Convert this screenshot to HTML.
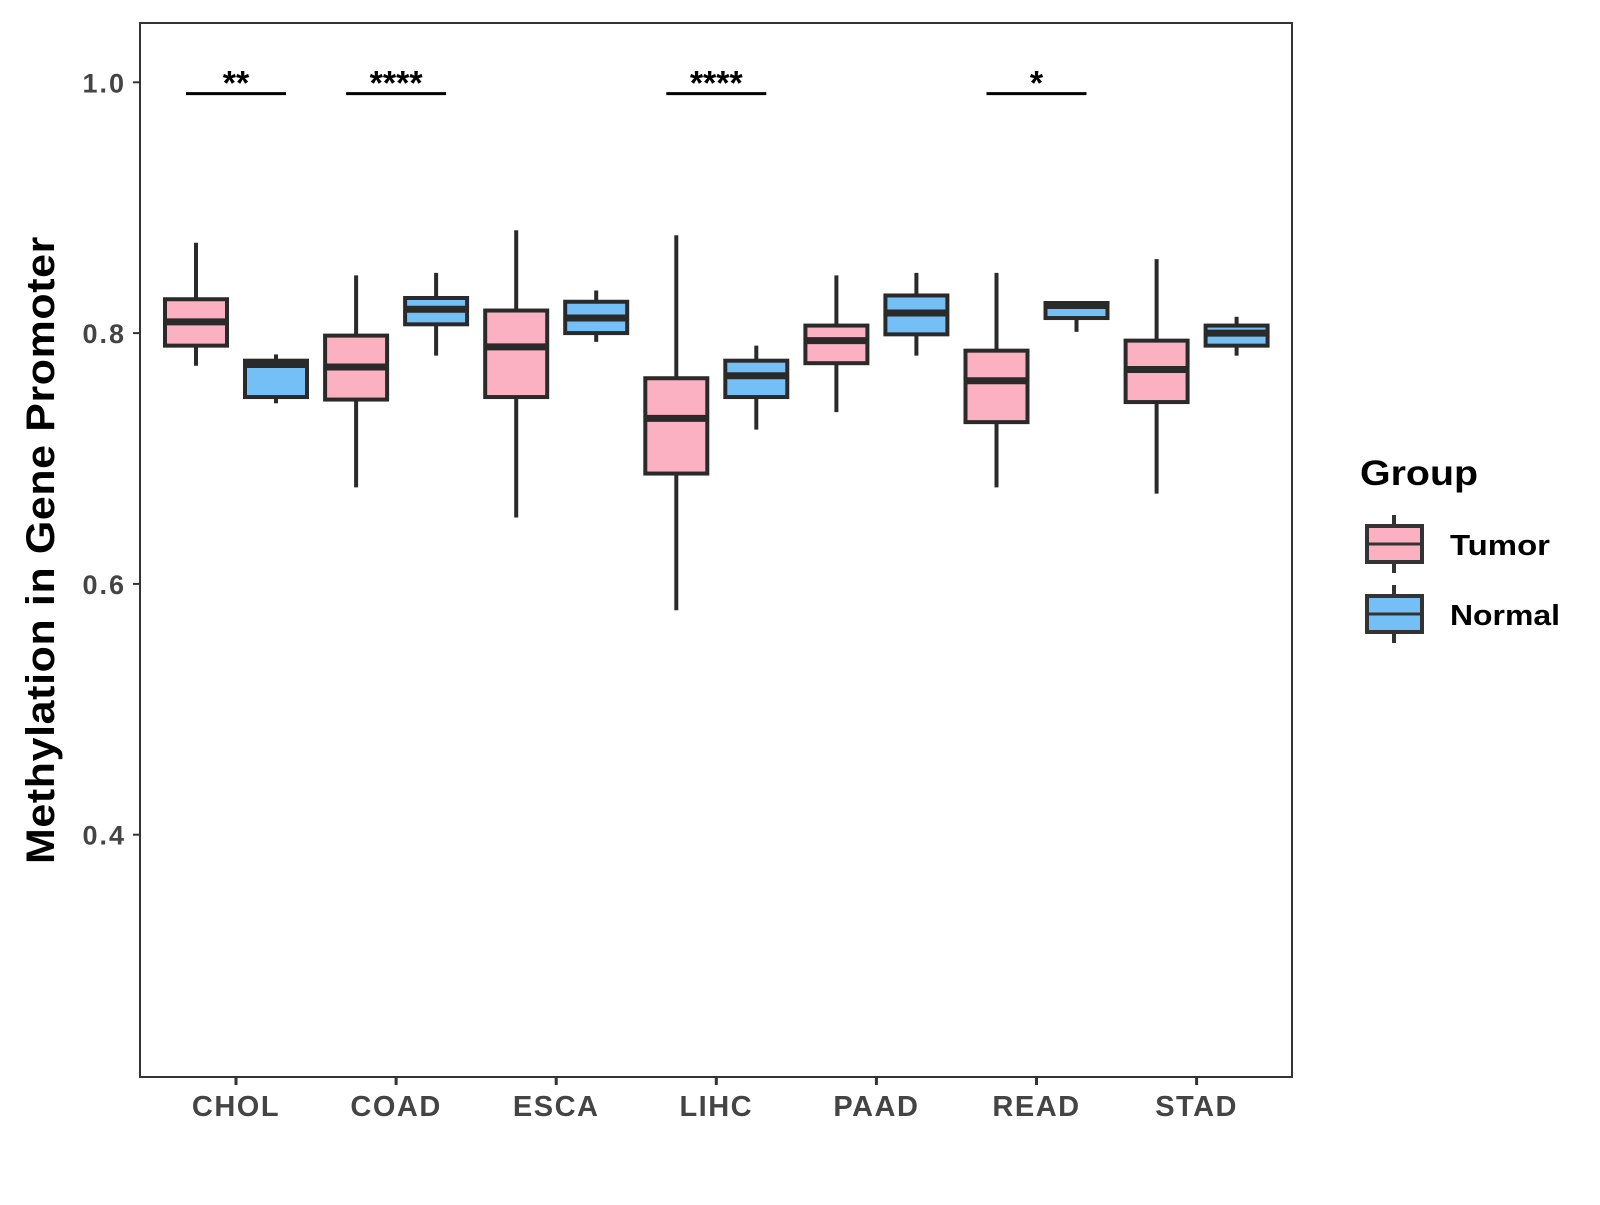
<!DOCTYPE html>
<html><head><meta charset="utf-8"><style>
body{margin:0;background:#fff}
svg text{font-family:"Liberation Sans",Arial,sans-serif;font-weight:bold}
</style></head><body>
<svg id="chart" width="1600" height="1200" xmlns="http://www.w3.org/2000/svg">
<rect x="140" y="23" width="1152" height="1054" fill="#fff" stroke="#333" stroke-width="2"/>
<g id="marks"></g>
<text transform="translate(54,550) rotate(-90)" text-anchor="middle" font-size="40" letter-spacing="0.6" fill="#000" textLength="628" lengthAdjust="spacingAndGlyphs">Methylation in Gene Promoter</text>
<g>
<text x="1360" y="485" font-size="35" fill="#000" textLength="118" lengthAdjust="spacingAndGlyphs">Group</text>
<line x1="1394" y1="515" x2="1394" y2="573" stroke="#333" stroke-width="4"/>
<rect x="1367" y="526" width="55" height="36" fill="#FBB1C2" stroke="#333" stroke-width="4"/>
<line x1="1367" y1="544" x2="1422" y2="544" stroke="#333" stroke-width="3"/>
<text x="1450" y="555" font-size="29" fill="#000" textLength="100" lengthAdjust="spacingAndGlyphs">Tumor</text>
<line x1="1394" y1="585" x2="1394" y2="643" stroke="#333" stroke-width="4"/>
<rect x="1367" y="596" width="55" height="36" fill="#74BFF5" stroke="#333" stroke-width="4"/>
<line x1="1367" y1="614" x2="1422" y2="614" stroke="#333" stroke-width="3"/>
<text x="1450" y="625" font-size="29" fill="#000" textLength="110" lengthAdjust="spacingAndGlyphs">Normal</text>
</g>
</svg>
<script>
const categories=["CHOL","COAD","ESCA","LIHC","PAAD","READ","STAD"];
const tumorLow=[0.774,0.677,0.653,0.579,0.737,0.677,0.672];
const tumorQ1=[0.790,0.747,0.749,0.688,0.776,0.729,0.745];
const tumorMed=[0.809,0.773,0.789,0.732,0.794,0.762,0.771];
const tumorQ3=[0.827,0.798,0.818,0.764,0.806,0.786,0.794];
const tumorHigh=[0.872,0.846,0.882,0.878,0.846,0.848,0.859];
const normalLow=[0.744,0.782,0.793,0.723,0.782,0.801,0.782];
const normalQ1=[0.749,0.807,0.800,0.749,0.799,0.812,0.790];
const normalMed=[0.775,0.819,0.812,0.766,0.816,0.822,0.800];
const normalQ3=[0.778,0.828,0.825,0.778,0.830,0.824,0.806];
const normalHigh=[0.783,0.848,0.834,0.790,0.848,0.825,0.813];
const yTicks=[0.4,0.6,0.8,1.0];
const sigLabels=["**","****","","****","","*",""];
const sigLevel=0.991;

const NS="http://www.w3.org/2000/svg";
const g=document.getElementById('marks');
const y=v=>82.3+(1-v)*1254;
const x=i=>236+i*160.1;
function el(tag,attrs,parent){const e=document.createElementNS(NS,tag);for(const k in attrs)e.setAttribute(k,attrs[k]);(parent||g).appendChild(e);return e;}
yTicks.forEach(t=>{
  const l=el('line',{x1:133,x2:140,y1:y(t),y2:y(t),stroke:'#333','stroke-width':2});
  
  
  const tx=el('text',{x:126,y:y(t)+10,'text-anchor':'end','font-size':27,'letter-spacing':2,fill:'#444'});
  tx.textContent=t.toFixed(1);
  
  
});
function box(cx,lo,q1,md,q3,hi,fill,name){
  const grp=el('g',{});
  
  
  el('line',{x1:cx,x2:cx,y1:y(hi),y2:y(lo),stroke:'#2a2a2a','stroke-width':4},grp);
  el('rect',{x:cx-31,y:y(q3),width:62,height:y(q1)-y(q3),fill:fill,stroke:'#2a2a2a','stroke-width':4},grp);
  el('line',{x1:cx-31,x2:cx+31,y1:y(md),y2:y(md),stroke:'#2a2a2a','stroke-width':7},grp);
}
categories.forEach((c,i)=>{
  box(x(i)-40,tumorLow[i],tumorQ1[i],tumorMed[i],tumorQ3[i],tumorHigh[i],'#FBB1C2','box-tumor-'+c.toLowerCase());
  box(x(i)+40,normalLow[i],normalQ1[i],normalMed[i],normalQ3[i],normalHigh[i],'#74BFF5','box-normal-'+c.toLowerCase());
  const tk=el('line',{x1:x(i),x2:x(i),y1:1077,y2:1085,stroke:'#333','stroke-width':3});
  
  
  const tl=el('text',{x:x(i),y:1116,'text-anchor':'middle','font-size':29,'letter-spacing':1.5,fill:'#444'});
  tl.textContent=c;
  
  
  if(sigLabels[i]){
    const b=el('line',{x1:x(i)-50,x2:x(i)+50,y1:y(sigLevel),y2:y(sigLevel),stroke:'#000','stroke-width':3});
    
    
    const s=el('text',{x:x(i),y:y(sigLevel)+1,'text-anchor':'middle','font-size':34,fill:'#000'});
    s.textContent=sigLabels[i];
    
    
  }
});
</script>
</body></html>
